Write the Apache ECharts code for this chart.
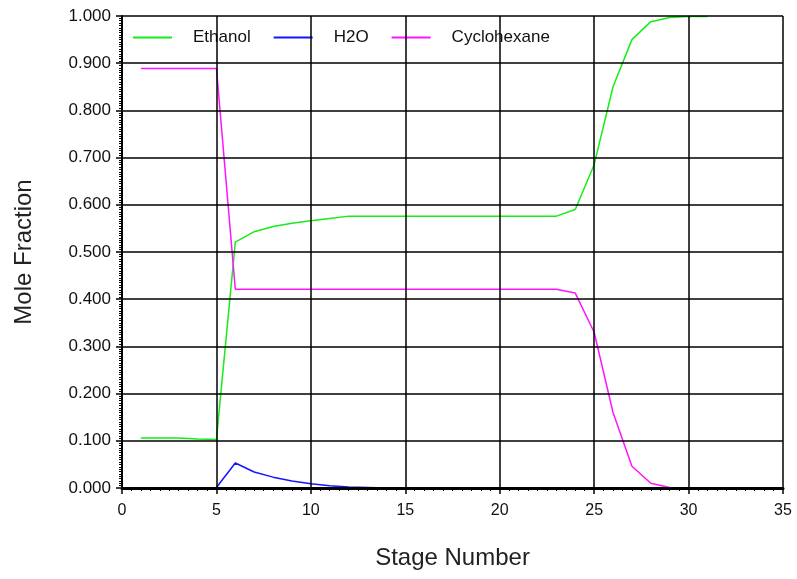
<!DOCTYPE html>
<html>
<head>
<meta charset="utf-8">
<script src="https://cdn.jsdelivr.net/npm/echarts@6/dist/echarts.min.js"></script>
<style>
  html, body { margin: 0; padding: 0; background: #fff; }
  #chart { width: 797px; height: 579px; }
</style>
</head>
<body>
<div id="chart"></div>
<script>
// Liquid composition on each stage of the column
const stages = [1, 2, 3, 4, 5, 6, 7, 8, 9, 10, 11, 12, 13, 14, 15, 16,
                17, 18, 19, 20, 21, 22, 23, 24, 25, 26, 27, 28, 29, 30, 31];

const ethanol = [0.106, 0.106, 0.106, 0.104, 0.103,
                 0.521, 0.543, 0.554, 0.561, 0.566, 0.571,
                 0.576, 0.576, 0.576, 0.576, 0.576, 0.576,
                 0.576, 0.576, 0.576, 0.576, 0.576, 0.576,
                 0.590, 0.685, 0.850, 0.950, 0.988, 0.997, 0.999, 0.999];

const water = [0, 0, 0, 0, 0.001,
               0.053, 0.034, 0.023, 0.015, 0.009, 0.005,
               0.002, 0.001, 0, 0, 0, 0,
               0, 0, 0, 0, 0, 0,
               0, 0, 0, 0, 0, 0, 0, 0];

const cyclohexane = [0.889, 0.889, 0.889, 0.889, 0.889,
                     0.421, 0.421, 0.421, 0.421, 0.421, 0.421,
                     0.421, 0.421, 0.421, 0.421, 0.421, 0.421,
                     0.421, 0.421, 0.421, 0.421, 0.421, 0.421,
                     0.413, 0.330, 0.160, 0.046, 0.010, 0.001, 0, 0];

const seriesNames = ['Ethanol', 'H2O', 'Cyclohexane'];
const seriesColors = ['#14ee14', '#1414ff', '#ff14ff'];

const pairs = arr => stages.map((s, i) => [s, arr[i]]);

const chart = echarts.init(document.getElementById('chart'), null, { renderer: 'canvas' });

const font = 'Liberation Sans, Arial, sans-serif';

const lineSeries = [ethanol, water, cyclohexane].map((arr, k) => ({
  name: seriesNames[k],
  type: 'line',
  data: pairs(arr),
  symbol: 'none',
  z: 2,
  lineStyle: { color: seriesColors[k], width: 1.5 },
  itemStyle: { color: seriesColors[k] },
  animation: false
}));

chart.setOption({
  animation: false,
  backgroundColor: '#ffffff',
  grid: { left: 122, right: 14, top: 16, bottom: 91, containLabel: false },
  legend: {
    left: 128,
    top: 24,
    z: 3,
    icon: 'rect',
    itemWidth: 39,
    itemHeight: 2,
    itemGap: 23,
    data: seriesNames,
    textStyle: { fontFamily: font, fontSize: 17, color: '#111', padding: [0, 0, 0, 16] }
  },
  xAxis: {
    type: 'value',
    min: 0, max: 35, interval: 5,
    z: 10,
    name: 'Stage Number',
    nameLocation: 'middle',
    nameGap: 58,
    nameTextStyle: { fontFamily: font, fontSize: 24, color: '#222' },
    axisLine: { onZero: false, lineStyle: { color: '#000', width: 3 } },
    axisTick: { show: true, length: 6, lineStyle: { color: '#000', width: 1.5 } },
    minorTick: { show: true, splitNumber: 10, length: 3, lineStyle: { color: '#000', width: 1 } },
    axisLabel: { fontFamily: font, fontSize: 16, color: '#111', margin: 15 },
    splitLine: { show: true, lineStyle: { color: '#000', width: 1.5 } }
  },
  yAxis: {
    type: 'value',
    min: 0, max: 1, interval: 0.1,
    z: 10,
    name: 'Mole Fraction',
    nameLocation: 'middle',
    nameGap: 86,
    nameTextStyle: { fontFamily: font, fontSize: 24, color: '#222' },
    axisLine: { onZero: false, lineStyle: { color: '#000', width: 2 } },
    axisTick: { show: true, length: 6, lineStyle: { color: '#000', width: 1.5 } },
    minorTick: { show: true, splitNumber: 20, length: 3, lineStyle: { color: '#000', width: 1 } },
    axisLabel: {
      fontFamily: font, fontSize: 17, color: '#111', margin: 11,
      formatter: v => v.toFixed(3)
    },
    splitLine: { show: true, lineStyle: { color: '#000', width: 1.5 } }
  },
  series: lineSeries
});
</script>
</body>
</html>
